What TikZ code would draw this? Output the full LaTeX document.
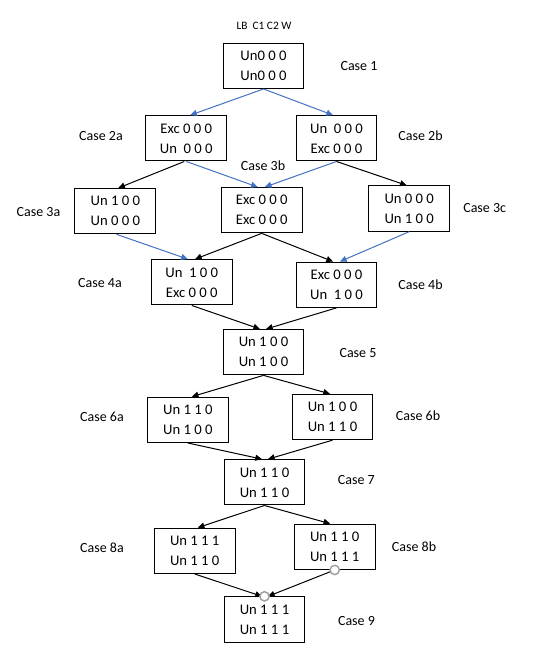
\documentclass[tikz,border=0pt]{standalone}
\usepackage{fontspec}
\setmainfont{Carlito}
\usetikzlibrary{arrows.meta}
\definecolor{arrblue}{RGB}{68,114,196}
\definecolor{circgray}{RGB}{160,160,160}
\begin{document}
\begin{tikzpicture}[x=0.75pt,y=-0.75pt,
  box/.style={draw=black,line width=0.75pt,minimum width=60.5pt,minimum height=34pt,inner sep=0pt,align=center,font=\fontsize{11}{15}\selectfont},
  lbl/.style={inner sep=0pt,font=\fontsize{10.5}{12}\selectfont},
  conn/.style={line width=0.75pt,-{Triangle[length=5pt,width=4.5pt]}},
  bconn/.style={conn,draw=arrblue,arrblue},
  kconn/.style={conn,draw=black},
  circ/.style={circle,draw=circgray,fill=white,line width=1.1pt,minimum size=7pt,inner sep=0pt}]
\useasboundingbox[fill=white] (0,0) rectangle (546,662);

\node[lbl,font=\fontsize{8.5}{10}\selectfont] (hdr) at (264,26) {LB\ \ C1 C2 W};

\node[box] (b1) at (263.5,65.8) {Un0 0 0\\Un0 0 0};
\node[box] (b2a) at (186.3,138.3) {Exc 0 0 0\\Un\ \ 0 0 0};
\node[box] (b2b) at (336.5,138.3) {Un\ \ 0 0 0\\Exc 0 0 0};
\node[box] (b3a) at (115.3,211.2) {Un 1 0 0\\Un 0 0 0};
\node[box] (b3b) at (261.7,210.2) {Exc 0 0 0\\Exc 0 0 0};
\node[box] (b3c) at (409.2,208.5) {Un 0 0 0\\Un 1 0 0};
\node[box] (b4a) at (191.8,282.3) {Un\ \ 1 0 0\\Exc 0 0 0};
\node[box] (b4b) at (336.5,284.7) {Exc 0 0 0\\Un\ \ 1 0 0};
\node[box] (b5) at (263.5,352.2) {Un 1 0 0\\Un 1 0 0};
\node[box] (b6a) at (187.8,419.8) {Un 1 1 0\\Un 1 0 0};
\node[box] (b6b) at (332.5,417) {Un 1 0 0\\Un 1 1 0};
\node[box] (b7) at (264.5,482.3) {Un 1 1 0\\Un 1 1 0};
\node[box] (b8a) at (194.7,550.8) {Un 1 1 1\\Un 1 1 0};
\node[box] (b8b) at (334.7,546.8) {Un 1 1 0\\Un 1 1 1};
\node[box] (b9) at (264.5,619.5) {Un 1 1 1\\Un 1 1 1};

\node[lbl] (l1) at (359,66) {Case 1};
\node[lbl] (l2a) at (101,136) {Case 2a};
\node[lbl] (l2b) at (420.5,136) {Case 2b};
\node[lbl] (l3b) at (263,165.5) {Case 3b};
\node[lbl] (l3a) at (38.5,212) {Case 3a};
\node[lbl] (l3c) at (484.7,208) {Case 3c};
\node[lbl] (l4a) at (100,283) {Case 4a};
\node[lbl] (l4b) at (420.5,285) {Case 4b};
\node[lbl] (l5) at (358,353) {Case 5};
\node[lbl] (l6a) at (102,417) {Case 6a};
\node[lbl] (l6b) at (418,416) {Case 6b};
\node[lbl] (l7) at (356.3,480) {Case 7};
\node[lbl] (l8a) at (102,548) {Case 8a};
\node[lbl] (l8b) at (414,547) {Case 8b};
\node[lbl] (l9) at (356.5,621) {Case 9};

\draw[bconn] (b1.south) -- ([xshift=3pt]b2a.north);
\draw[bconn] (b1.south) -- ([xshift=-2.6pt]b2b.north);
\draw[kconn] ([xshift=-1.5pt]b2a.south) -- ([xshift=2.2pt]b3a.north);
\draw[bconn] (b2a.south) -- ([xshift=-3pt]b3b.north);
\draw[bconn] (b2b.south) -- ([xshift=2.4pt]b3b.north);
\draw[kconn] (b2b.south) -- ([xshift=-1.9pt]b3c.north);
\draw[bconn] ([xshift=1pt]b3a.south) -- ([xshift=-3pt]b4a.north);
\draw[kconn] (b3b.south) -- ([xshift=2.4pt]b4a.north);
\draw[kconn] (b3b.south) -- ([xshift=-2.6pt]b4b.north);
\draw[bconn] (b3c.south) -- ([xshift=2.6pt]b4b.north);
\draw[kconn] (b4a.south) -- ([xshift=-2.6pt]b5.north);
\draw[kconn] (b4b.south) -- ([xshift=1.9pt]b5.north);
\draw[kconn] (b5.south) -- ([xshift=3pt]b6a.north);
\draw[kconn] (b5.south) -- ([xshift=-1.9pt]b6b.north);
\draw[kconn] (b6a.south) -- ([xshift=-1.9pt]b7.north);
\draw[kconn] (b6b.south) -- ([xshift=2.6pt]b7.north);
\draw[kconn] (b7.south) -- ([xshift=2.3pt]b8a.north);
\draw[kconn] (b7.south) -- ([xshift=-3.4pt]b8b.north);
\draw[kconn] (b8a.south) -- ([xshift=-1.9pt]b9.north);
\draw[kconn] (b8b.south) -- ([xshift=2.6pt]b9.north);

\node[circ] (c1) at (b8b.south) {};
\node[circ] (c2) at (b9.north) {};
\end{tikzpicture}
\end{document}
